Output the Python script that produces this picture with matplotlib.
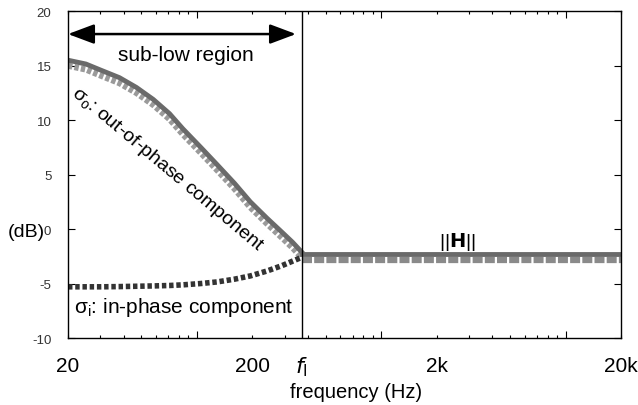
import matplotlib
matplotlib.use('Agg')
import matplotlib.pyplot as plt
import matplotlib.ticker as mticker
import numpy as np

plt.rcParams['font.family'] = ['Liberation Sans', 'DejaVu Sans']

# frequency points in the sub-low region (Hz)
freq_sub = [20, 25, 30, 38, 47, 58, 71, 84, 105, 129, 160, 195, 240, 290, 330, 370]
# sigma_o: out-of-phase component (dB), solid and dotted versions
out_phase_solid = [15.5, 15.15, 14.6, 13.9, 13.0, 11.9, 10.6, 9.2, 7.5, 5.9, 4.2, 2.5,
                   1.0, -0.3, -1.2, -2.1]
out_phase_dot = [15.0, 14.65, 14.1, 13.4, 12.5, 11.4, 10.1, 8.7, 7.0, 5.4, 3.7, 2.0,
                 0.5, -0.8, -1.7, -2.6]
# sigma_i: in-phase component (dB)
in_phase = [-5.3, -5.3, -5.3, -5.28, -5.25, -5.22, -5.18, -5.12, -5.0, -4.85, -4.6, -4.3,
            -3.85, -3.35, -2.95, -2.6]

# ||H|| above f_l
freq_h = [370, 20000]
h_solid = [-2.3, -2.3]
h_dot = [-2.85, -2.85]

f_l = 370
x_labels = [(20, '20'), (200, '200'), (2000, '2k'), (20000, '20k')]

fig = plt.figure(figsize=(6.38, 4.06), dpi=100)
ax = fig.add_axes([0.1066, 0.165, 0.8668, 0.805])

ax.plot(freq_sub, out_phase_dot, color='#9a9a9a', lw=4.5, ls=(0, (0.7, 0.35)))
ax.plot(freq_sub, out_phase_solid, color='#6a6a6a', lw=3.5)
ax.plot(freq_sub, in_phase, color='#333333', lw=4, ls=(0, (0.8, 0.5)))
ax.plot(freq_h, h_dot, color='#8a8a8a', lw=4.5, ls=(0, (1.6, 0.35)))
ax.plot(freq_h, h_solid, color='#6a6a6a', lw=3.5)

ax.axvline(f_l, color='black', lw=1)

ax.set_xscale('log')
ax.set_xlim(20, 20000)
ax.set_ylim(-10, 20)
ax.set_yticks([-10, -5, 0, 5, 10, 15, 20])
ax.set_yticklabels(['-10', '-5', '0', '5', '10', '15', '20'], fontsize=9.5, color='#333333')
ax.xaxis.set_major_formatter(mticker.NullFormatter())
ax.xaxis.set_minor_formatter(mticker.NullFormatter())
ax.tick_params(which='both', direction='in', top=True, right=True, width=0.8)
ax.tick_params(which='major', length=5)
ax.tick_params(which='minor', length=2.5)
ax.tick_params(axis='y', pad=12)
for s in ax.spines.values():
    s.set_linewidth(1)

tr = ax.get_xaxis_transform()
for f, lab in x_labels:
    ax.text(f, -0.085, lab, transform=tr, ha='center', va='center', fontsize=15)
ax.text(f_l, -0.085, r'$\mathit{f}_{\mathrm{l}}$', transform=tr, ha='center', va='center', fontsize=16)
ax.text(0.52, -0.165, 'frequency (Hz)', transform=ax.transAxes, ha='center', va='center', fontsize=14.5)

fig.text(0.042, 0.428, '(dB)', ha='center', va='center', fontsize=14)

ax.annotate('', xy=(20, 17.9), xytext=(345, 17.9),
            arrowprops=dict(arrowstyle='<|-|>,head_length=1.6,head_width=0.6', color='black', lw=1.8,
                            shrinkA=0, shrinkB=0))
ax.text(87, 16, 'sub-low region', ha='center', va='center', fontsize=15)

ax.text(21.5, 12.8, r'$\mathregular{\sigma_o}$: out-of-phase component', rotation=-40,
        rotation_mode='anchor', ha='left', va='center', fontsize=14)
ax.text(21.5, -7.1, r'$\mathregular{\sigma_i}$: in-phase component', ha='left', va='center', fontsize=15)
ax.text(2600, -1.1, r'||$\mathbf{H}$||', ha='center', va='center', fontsize=14)

fig.savefig('out.png', dpi=100)
